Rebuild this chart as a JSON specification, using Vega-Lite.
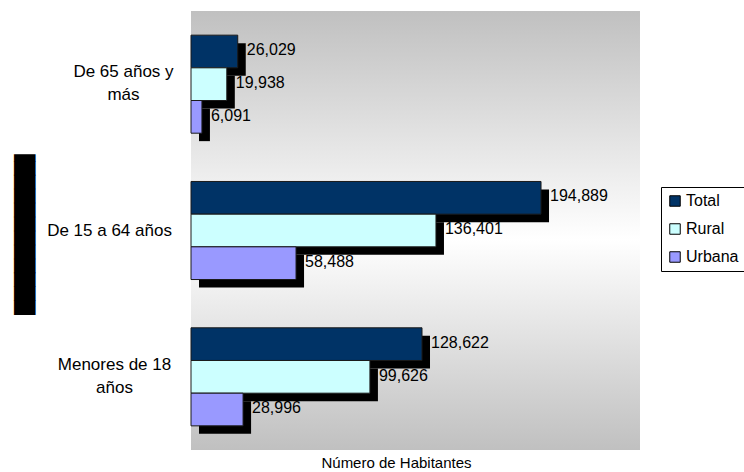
{
  "$schema": "https://vega.github.io/schema/vega-lite/v6.json",
  "width": 449,
  "height": 439,
  "autosize": "none",
  "padding": {"left": 191, "top": 11, "right": 104, "bottom": 22},
  "background": "white",
  "view": {
    "stroke": null,
    "fill": {"gradient": "linear", "x1": 0, "y1": 0, "x2": 0, "y2": 1,
      "stops": [{"offset": 0, "color": "#c0c0c0"}, {"offset": 0.52, "color": "#ffffff"}, {"offset": 1, "color": "#c0c0c0"}]}
  },
  "config": {
    "font": "Liberation Sans",
    "axis": {"labelFont": "Liberation Sans", "titleFont": "Liberation Sans", "labelColor": "black", "titleColor": "black"}
  },
  "data": {
    "values": [
      {"grupo": "De 65 años y más", "serie": "Total", "valor": 26029},
      {"grupo": "De 65 años y más", "serie": "Rural", "valor": 19938},
      {"grupo": "De 65 años y más", "serie": "Urbana", "valor": 6091},
      {"grupo": "De 15 a 64 años", "serie": "Total", "valor": 194889},
      {"grupo": "De 15 a 64 años", "serie": "Rural", "valor": 136401},
      {"grupo": "De 15 a 64 años", "serie": "Urbana", "valor": 58488},
      {"grupo": "Menores de 18 años", "serie": "Total", "valor": 128622},
      {"grupo": "Menores de 18 años", "serie": "Rural", "valor": 99626},
      {"grupo": "Menores de 18 años", "serie": "Urbana", "valor": 28996}
    ]
  },
  "encoding": {
    "y": {
      "field": "grupo", "type": "nominal",
      "sort": ["De 65 años y más", "De 15 a 64 años", "Menores de 18 años"],
      "scale": {"paddingInner": 0.33, "paddingOuter": 0.165},
      "axis": {
        "title": "███████████▌",
        "titleFont": "DejaVu Sans",
        "titleFontSize": 18.17,
        "titleFontWeight": "normal",
        "titlePadding": 12,
        "domain": false, "ticks": false,
        "labelFontSize": 17,
        "labelLimit": 300,
        "labelLineHeight": 23,
        "labelAlign": "center",
        "labelPadding": {"condition": [
          {"test": "datum.value == 'De 15 a 64 años'", "value": 82},
          {"test": "datum.value == 'Menores de 18 años'", "value": 77}
        ], "value": 68},
        "labelOffset": {"condition": {"test": "datum.value == 'De 15 a 64 años'", "value": 0}, "value": -12},
        "labelExpr": "datum.value == 'De 65 años y más' ? ['De 65 años y', 'más'] : datum.value == 'Menores de 18 años' ? ['Menores de 18', 'años'] : datum.value"
      }
    },
    "x": {
      "field": "valor", "type": "quantitative",
      "scale": {"domain": [0, 250000], "nice": false},
      "axis": {
        "title": "Número de Habitantes",
        "titleFontSize": 15, "titleFontWeight": "normal", "titlePadding": 5,
        "titleX": 205, "titleAnchor": "start", "titleAlign": "center",
        "labels": false, "ticks": false, "domain": false, "grid": false
      }
    }
  },
  "layer": [
    {
      "mark": {"type": "bar", "color": "black", "xOffset": 8, "x2Offset": 4},
      "encoding": {
        "yOffset": {"field": "serie", "type": "nominal", "sort": ["Total", "Rural", "Urbana"], "scale": {"paddingInner": 0, "paddingOuter": 0, "range": [8, 106]}}
      }
    },
    {
      "mark": {"type": "bar", "stroke": "#1a1a1a", "strokeWidth": 1},
      "encoding": {
        "yOffset": {"field": "serie", "type": "nominal", "sort": ["Total", "Rural", "Urbana"], "scale": {"paddingInner": 0, "paddingOuter": 0}},
        "color": {
          "field": "serie", "type": "nominal",
          "sort": ["Total", "Rural", "Urbana"],
          "scale": {"domain": ["Total", "Rural", "Urbana"], "range": ["#003366", "#ccffff", "#9999ff"]},
          "legend": {
            "title": null,
            "orient": "none", "legendX": 470, "legendY": 176,
            "fillColor": "white", "strokeColor": "black",
            "padding": 6,
            "symbolType": "square", "symbolSize": 110,
            "symbolStrokeColor": "black", "symbolStrokeWidth": 1,
            "labelFontSize": 16, "labelFont": "Liberation Sans", "labelColor": "black",
            "rowPadding": 12, "labelOffset": 3
          }
        }
      }
    },
    {
      "mark": {"type": "text", "align": "left", "baseline": "middle", "dx": 9, "fontSize": 16, "color": "black"},
      "encoding": {
        "yOffset": {"field": "serie", "type": "nominal", "sort": ["Total", "Rural", "Urbana"], "scale": {"type": "point", "padding": 0, "range": [15, 80.4]}},
        "text": {"field": "valor", "type": "quantitative", "format": ","}
      }
    }
  ],
  "resolve": {"scale": {"yOffset": "independent"}}
}
